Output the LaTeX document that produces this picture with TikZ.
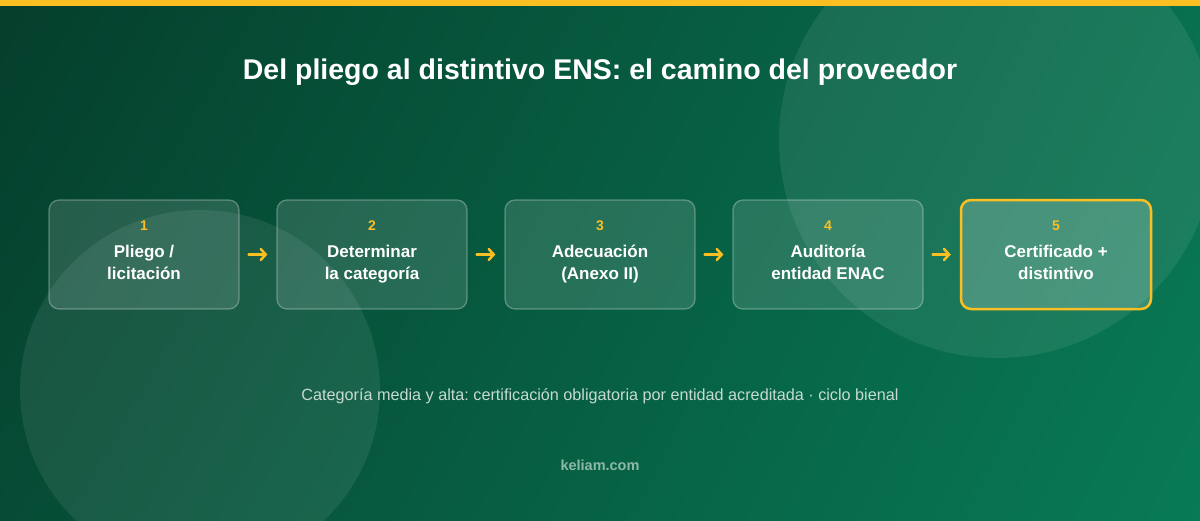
\documentclass[tikz,border=0pt]{standalone}
\usepackage{fontspec}
\setmainfont{Liberation Sans}
\usetikzlibrary{arrows.meta,shadings}
\definecolor{bgdarkA}{HTML}{053F2C}
\definecolor{bgdarkB}{HTML}{064B35}
\definecolor{bglightA}{HTML}{08704F}
\definecolor{bglightB}{HTML}{087A56}
\definecolor{ensyellow}{HTML}{FBBF24}
\definecolor{footgray}{HTML}{C6DAD1}
\definecolor{brandgray}{HTML}{8DB9A6}
\frenchspacing
\tikzset{
  stepbox/.style={draw=white, draw opacity=0.3, fill=white, fill opacity=0.13,
    text opacity=1, text=white, rounded corners=10pt, line width=1.2pt,
    minimum width=190pt, minimum height=109pt, align=center, text depth=8pt,
    font=\fontsize{17}{22}\selectfont\bfseries},
  laststep/.style={stepbox, draw=ensyellow, draw opacity=1, line width=2.5pt,
    fill opacity=0.2},
  flecha/.style={draw=ensyellow, line width=2.5pt, line cap=round,
    -{Straight Barb[length=5pt,width=11pt,line cap=round]},
    shorten <=9pt, shorten >=9pt}
}
\newcommand{\stepnum}[1]{{\fontsize{14}{22}\selectfont\color{ensyellow}#1}\\[5pt]}
\begin{document}
\begin{tikzpicture}[x=1pt,y=-1pt]
\useasboundingbox (0,0) rectangle (1200,520);
\clip (0,0) rectangle (1200,520);
% background and the two soft circles
\shade[upper left=bgdarkA, lower left=bgdarkB, upper right=bglightA, lower right=bglightB]
  (0,0) rectangle (1200,520);
\fill[white, opacity=0.08] (997,140) circle (218pt);
\fill[white, opacity=0.08] (200,390) circle (180pt);
\fill[ensyellow] (0,0) rectangle (1200,6);
% title
\node[text=white, font=\fontsize{28.5}{32}\selectfont\bfseries] (titulo) at (600,72)
  {Del pliego al distintivo ENS: el camino del proveedor};
% steps
\foreach \n/\x/\txt in {1/144/{Pliego /\\licitación},
                        2/372/{Determinar\\la categoría},
                        3/600/{Adecuación\\(Anexo II)},
                        4/828/{Auditoría\\entidad ENAC}}
  \node[stepbox] (paso\n) at (\x,254.5) {\stepnum{\n}\txt};
\node[laststep] (paso5) at (1056,254.5) {\stepnum{5}Certificado +\\distintivo};
\foreach \a/\b in {1/2,2/3,3/4,4/5}
  \draw[flecha] (paso\a) -- (paso\b);
% footer
\node[text=footgray, font=\fontsize{16.2}{19}\selectfont] (nota) at (600,396)
  {Categoría media y alta: certificación obligatoria por entidad acreditada · ciclo bienal};
\node[text=brandgray, font=\fontsize{14.5}{17}\selectfont\bfseries] (marca) at (600,465)
  {keliam.com};
\end{tikzpicture}
\end{document}
